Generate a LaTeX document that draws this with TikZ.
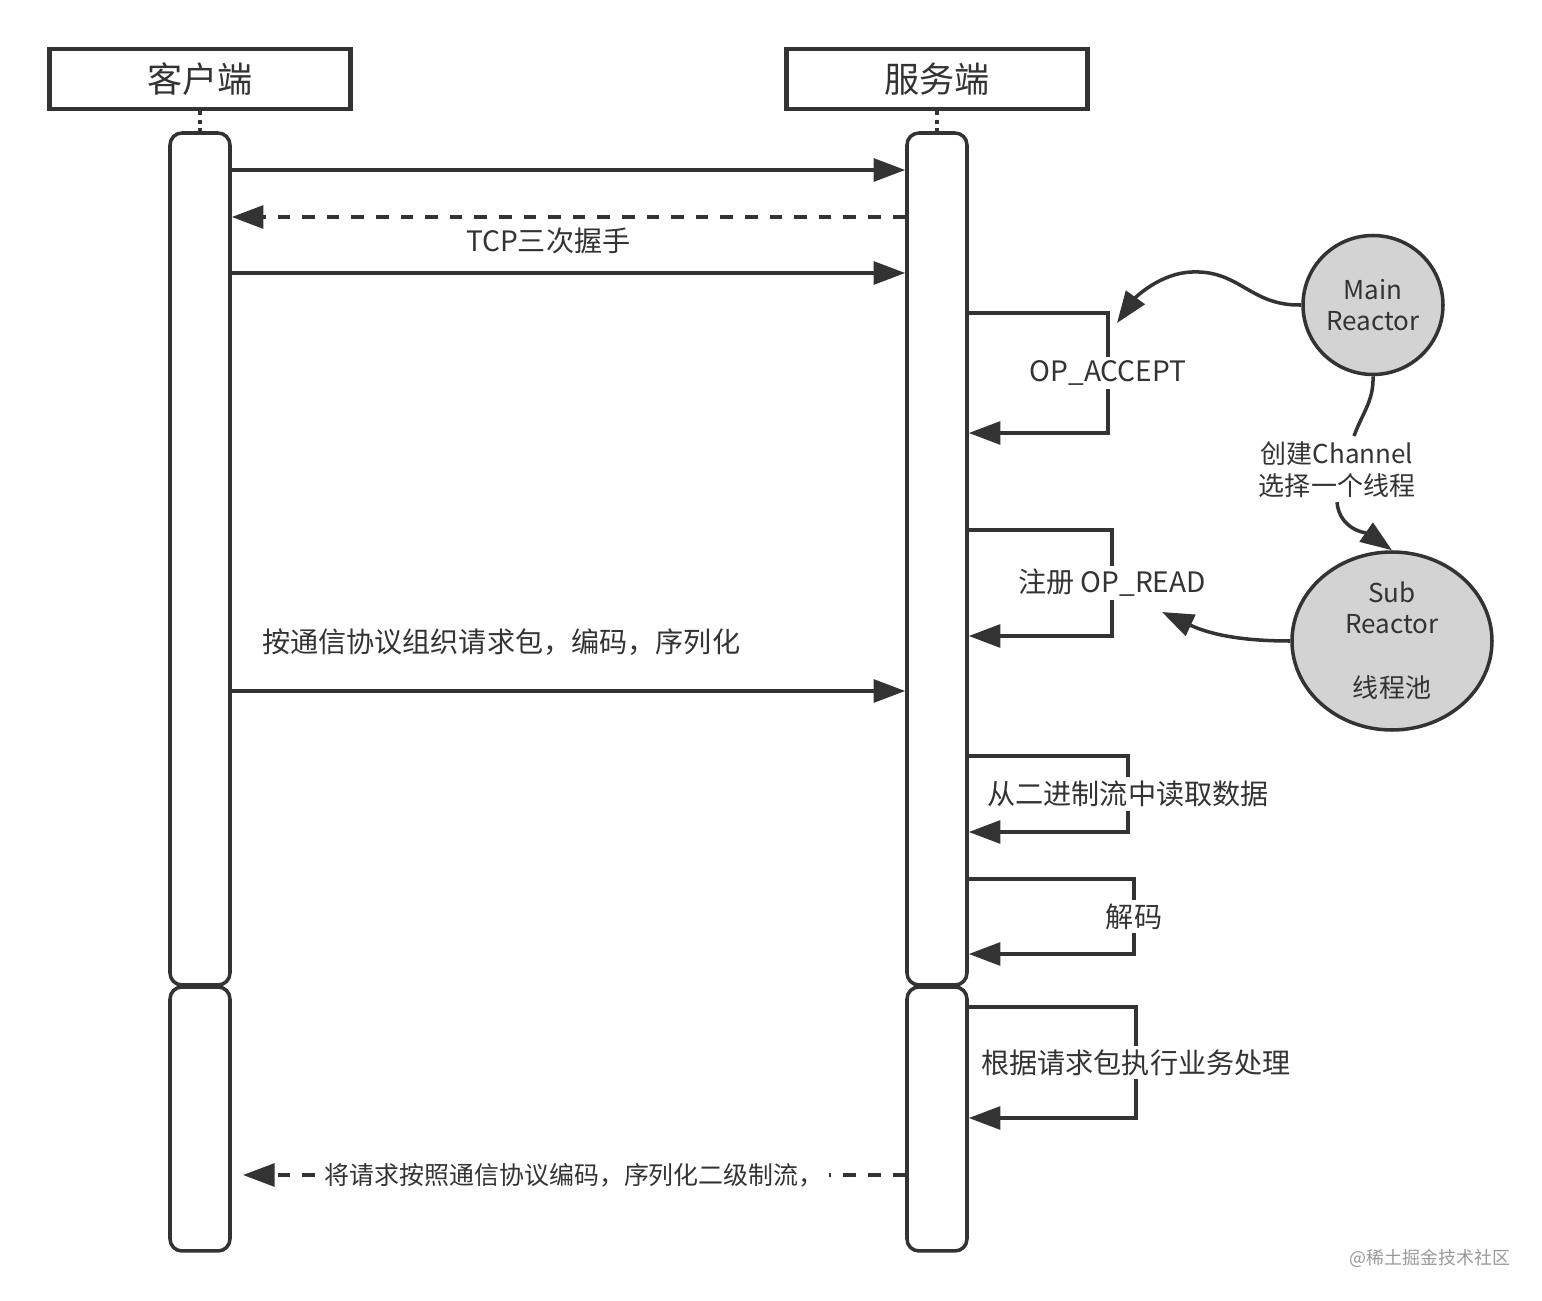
\documentclass[tikz,border=0pt]{standalone}
\usepackage{fontspec}
\setmainfont{Noto Sans CJK SC}
\usetikzlibrary{arrows.meta,positioning,shapes.geometric}
\definecolor{ink}{HTML}{333333}
\definecolor{reactorgray}{HTML}{D3D3D3}
\tikzset{
  actor/.style={draw=ink, line width=1.2pt, minimum width=30.1mm, minimum height=6mm, text=ink, font=\fontsize{10}{12}\selectfont},
  bar/.style={draw=ink, line width=1pt, rounded corners=1.2mm, minimum width=6mm, fill=white},
  msg/.style={draw=ink, line width=1pt, -{Triangle[length=9pt,width=6.5pt]}},
  reply/.style={msg, dash pattern=on 3.6pt off 3.4pt},
  lifeline/.style={draw=ink, line width=1pt, dash pattern=on 1.2pt off 1.2pt},
  lbl/.style={fill=white, text=ink, inner sep=1pt, font=\fontsize{8}{10}\selectfont},
  reactor/.style={ellipse, draw=ink, line width=1pt, fill=reactorgray, text=ink, align=center, inner sep=0pt, font=\fontsize{7.4}{8.8}\selectfont},
}
\begin{document}
\begin{tikzpicture}[x=0.1mm, y=-0.1mm, on grid]
   \useasboundingbox (0,0) rectangle (1542,1301);
   % participants
   \node[actor] (client) at (200,79) {客户端};
   \node[actor] (server) [right=73.7mm of client] {服务端};
   \node[bar, minimum height=85.2mm] (c1) [below=48mm of client] {};
   \node[bar, minimum height=26.4mm] (c2) [below=56mm of c1] {};
   \node[bar, minimum height=85.2mm] (s1) [right=73.7mm of c1] {};
   \node[bar, minimum height=26.4mm] (s2) [right=73.7mm of c2] {};
   \draw[lifeline] (client.south) -- (c1.north);
   \draw[lifeline] (server.south) -- (s1.north);
   % reactors
   \node[reactor, minimum width=14mm, minimum height=13.9mm] (mr) at (1373,305) {Main\\Reactor};
   \node[reactor, minimum width=20mm, minimum height=17.8mm] (sr) at (1392,641) {Sub\\Reactor\\[3.3mm]线程池};
   \node[text=ink, align=center, inner sep=1pt, font=\fontsize{7.4}{9.1}\selectfont] (pick) at (1337,470) {创建Channel\\选择一个线程};
   \coordinate (pickin) at (1354,436);
   \coordinate (acceptin) at (1117,323);
   \coordinate (readin) at (1162,612);
   \coordinate (replyend) at (243,1175);
   % handshake and request
   \draw[msg] (c1.east |- 0,170) -- (s1.west |- 0,170);
   \draw[reply] (s1.west |- 0,217) -- (c1.east |- 0,217);
   \draw[msg] (c1.east |- 0,273) -- node[text=ink, pos=0.47, yshift=3.2mm, font=\fontsize{8}{10}\selectfont] {TCP三次握手} (s1.west |- 0,273);
   \draw[msg] (c1.east |- 0,691) -- node[text=ink, pos=0.40, yshift=4.9mm, font=\fontsize{8}{10}\selectfont] {按通信协议组织请求包，编码，序列化} (s1.west |- 0,691);
   % server self calls
   \foreach \ya/\yb/\xr/\txt in {313/433/1108/OP\_ACCEPT, 530/636/1112/注册 OP\_READ, 756/832/1128/从二进制流中读取数据, 879/954/1134/解码}
     \draw[msg] (s1.east |- 0,\ya) -| (\xr,\yb) node[lbl, pos=0.75] {\txt} -- (s1.east |- 0,\yb);
   \draw[msg] (s2.east |- 0,1007) -| (1136,1118) node[lbl, pos=0.75] {根据请求包执行业务处理} -- (s2.east |- 0,1118);
   \draw[reply] (s2.west |- 0,1175) -- node[lbl, inner sep=1.5pt, font=\fontsize{7.1}{9}\selectfont] {将请求按照通信协议编码，序列化二级制流，} (replyend);
   % reactor links
   \draw[msg] (mr.west) .. controls (1250,306) and (1240,270) .. (1192,272) .. controls (1160,273) and (1135,298) .. (acceptin);
   \draw[draw=ink, line width=1pt] (mr.south) to[out=-88, in=70] (pickin);
   \draw[msg] (pick.south) to[out=-85, in=145] (sr.north);
   \draw[msg] (sr.west) to[out=180, in=-25] (readin);
   \node[text=black!40, font=\fontsize{5.1}{6}\selectfont] (mark) at (1430,1258) {@稀土掘金技术社区};
\end{tikzpicture}
\end{document}
